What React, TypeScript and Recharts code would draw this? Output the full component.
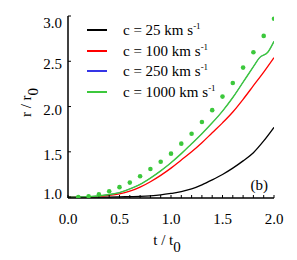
import React from 'react';
import { LineChart, Line, XAxis, YAxis, Legend, Label } from 'recharts';

// ---- data ----
const tGrid = [0.0, 0.1, 0.2, 0.3, 0.4, 0.5, 0.6, 0.7, 0.8, 0.9, 1.0, 1.1, 1.2, 1.3, 1.4, 1.5, 1.6, 1.7, 1.8, 1.9, 2.0];
const r25 = [1.0, 1.0, 1.0, 1.0, 1.0, 1.002, 1.005, 1.008, 1.014, 1.024, 1.04, 1.06, 1.09, 1.135, 1.19, 1.25, 1.32, 1.4, 1.49, 1.62, 1.77];
const r100 = [1.0, 1.0, 1.002, 1.008, 1.018, 1.035, 1.065, 1.11, 1.17, 1.24, 1.32, 1.41, 1.5, 1.6, 1.71, 1.82, 1.94, 2.08, 2.23, 2.38, 2.54];
const tFast = [0.0, 0.1, 0.2, 0.3, 0.4, 0.5, 0.6, 0.7, 0.8, 0.9, 1.0, 1.1, 1.2, 1.3, 1.4, 1.5, 1.6, 1.7, 1.8, 1.86, 1.94, 2.0];
const r250 = [1.0, 1.0, 1.004, 1.012, 1.028, 1.05, 1.09, 1.14, 1.21, 1.29, 1.38, 1.48, 1.59, 1.7, 1.82, 1.95, 2.1, 2.27, 2.44, 2.54, 2.6, 2.72];
const r1000 = [1.0, 1.0, 1.004, 1.012, 1.028, 1.05, 1.09, 1.14, 1.21, 1.29, 1.38, 1.48, 1.59, 1.7, 1.82, 1.95, 2.1, 2.27, 2.44, 2.54, 2.6, 2.72];
const tDots = [0.1, 0.2, 0.3, 0.4, 0.5, 0.6, 0.7, 0.8, 0.9, 1.0, 1.1, 1.2, 1.3, 1.4, 1.5, 1.6, 1.7, 1.8, 1.9, 2.0];
const rDots = [1.0, 1.01, 1.03, 1.065, 1.11, 1.16, 1.23, 1.31, 1.39, 1.48, 1.59, 1.7, 1.83, 1.96, 2.11, 2.26, 2.43, 2.6, 2.78, 2.97];

const seriesNames = ['c = 25 km s', 'c = 100 km s', 'c = 250 km s', 'c = 1000 km s'];
const seriesColors = ['#000000', '#ff0000', '#3535e6', '#3cc83c'];
const unitSup = '-1';

const xTicks = [0.0, 0.1, 0.2, 0.3, 0.4, 0.5, 0.6, 0.7, 0.8, 0.9, 1.0, 1.1, 1.2, 1.3, 1.4, 1.5, 1.6, 1.7, 1.8, 1.9, 2.0];
const xLabelTicks = [0.0, 0.5, 1.0, 1.5, 2.0];
const yTicks = [1.0, 1.5, 2.0, 2.5, 3.0];

const xTitle = 't / t';
const yTitle = 'r / r';
const titleSub = '0';
const panelTag = '(b)';

const pts = (t: number[], r: number[]) => t.map((x, i) => ({ t: x, r: r[i] }));

const FONT = 'Liberation Serif, DejaVu Serif, serif';
const GREEN = seriesColors[3];

const XTick = (props: any) => {
  const { x, y, payload } = props;
  const v = payload.value;
  const show = xLabelTicks.some((m) => Math.abs(m - v) < 1e-6);
  if (!show) return null;
  return (
    <text x={x} y={y + 29} textAnchor="middle" fontSize={15} style={{ fontFamily: FONT }} fill="#000">
      {v.toFixed(1)}
    </text>
  );
};

const YTick = (props: any) => {
  const { x, y, payload, index } = props;
  let off = 8;
  if (index === 0) off = 2;
  if (index === yTicks.length - 1) off = 12;
  return (
    <text x={x} y={y + off} textAnchor="end" fontSize={15} style={{ fontFamily: FONT }} fill="#000">
      {payload.value.toFixed(1)}
    </text>
  );
};

const renderLegend = (props: any) => {
  const items = (props.payload || [])
    .filter((p: any) => seriesNames.indexOf(p.value) >= 0)
    .sort((a: any, b: any) => seriesNames.indexOf(a.value) - seriesNames.indexOf(b.value));
  return (
    <div style={{ position: 'relative', width: 140, height: 84, fontFamily: FONT, fontSize: 15, color: '#000', lineHeight: 'normal' }}>
      {items.map((it: any, i: number) => (
        <div
          key={it.value}
          style={{
            position: 'absolute',
            left: 0,
            top: Math.round(i * 20.7),
            display: 'flex',
            alignItems: 'center',
            height: 20,
            whiteSpace: 'nowrap',
          }}
        >
          <span
            style={{
              display: 'inline-block',
              width: 20,
              height: 2,
              backgroundColor: seriesColors[seriesNames.indexOf(it.value)],
              marginRight: 16,
            }}
          />
          <span>
            {it.value}
            <span style={{ fontSize: 9, position: 'relative', top: -6 }}>{unitSup}</span>
          </span>
        </div>
      ))}
    </div>
  );
};

export default function App() {
  return (
    <div style={{ position: 'absolute', left: 0, top: 0, background: '#fff' }}>
      <LineChart width={297} height={260} margin={{ top: 16, right: 23, bottom: 32, left: 8 }}>
        <XAxis
          xAxisId="b"
          dataKey="t"
          type="number"
          domain={[0, 2]}
          ticks={xTicks}
          interval={0}
          height={30}
          axisLine={{ stroke: '#000', strokeWidth: 1.5 }}
          tickLine={{ stroke: '#000', strokeWidth: 1 }}
          tickSize={-3}
          tickMargin={0}
          tick={<XTick />}
          allowDataOverflow
        >
          <Label
            content={(p: any) => {
              const vb = p.viewBox;
              return (
                <g>
                  <text x={vb.x + vb.width / 2 - 4} y={vb.y + 47} textAnchor="middle" fontSize={15} style={{ fontFamily: FONT }} fill="#000">
                    {xTitle}
                    <tspan dy={7}>{titleSub}</tspan>
                  </text>
                  <text x={vb.x + vb.width - 6} y={vb.y - 8} textAnchor="end" fontSize={15} style={{ fontFamily: FONT }} fill="#000">
                    {panelTag}
                  </text>
                </g>
              );
            }}
          />
        </XAxis>
        <XAxis
          xAxisId="top"
          orientation="top"
          type="number"
          domain={[0, 2]}
          ticks={xTicks}
          interval={0}
          height={0}
          axisLine={{ stroke: '#000', strokeWidth: 1.5 }}
          tickLine={{ stroke: '#000', strokeWidth: 1 }}
          tickSize={-3}
          tick={false}
        />
        <YAxis
          yAxisId="l"
          type="number"
          domain={[0.99, 3]}
          ticks={yTicks}
          interval={0}
          width={60}
          axisLine={{ stroke: '#000', strokeWidth: 1.5 }}
          tickLine={{ stroke: '#000', strokeWidth: 1 }}
          tickSize={-3}
          tickMargin={9}
          tick={<YTick />}
          allowDataOverflow
        >
          <Label
            content={(p: any) => {
              const vb = p.viewBox;
              const cx = vb.x + 23;
              const cy = vb.y + 86.5;
              return (
                <text transform={`translate(${cx},${cy}) rotate(-90)`} textAnchor="middle" fontSize={15} style={{ fontFamily: FONT }} fill="#000">
                  {yTitle}
                  <tspan dy={7}>{titleSub}</tspan>
                </text>
              );
            }}
          />
        </YAxis>
        <YAxis
          yAxisId="r"
          orientation="right"
          type="number"
          domain={[0.99, 3]}
          ticks={yTicks}
          interval={0}
          width={0}
          axisLine={{ stroke: '#000', strokeWidth: 1.5 }}
          tickLine={{ stroke: '#000', strokeWidth: 1 }}
          tickSize={-3}
          tick={false}
        />
        <Legend
          layout="vertical"
          align="center"
          verticalAlign="middle"
          content={renderLegend}
          wrapperStyle={{ left: 87, top: 20, width: 'auto', height: 'auto' }}
        />
        <Line xAxisId="b" yAxisId="l" data={pts(tGrid, r25)} dataKey="r" name={seriesNames[0]} type="monotone" stroke={seriesColors[0]} strokeWidth={1.3} dot={false} activeDot={false} isAnimationActive={false} />
        <Line xAxisId="b" yAxisId="l" data={pts(tGrid, r100)} dataKey="r" name={seriesNames[1]} type="monotone" stroke={seriesColors[1]} strokeWidth={1.3} dot={false} activeDot={false} isAnimationActive={false} />
        <Line xAxisId="b" yAxisId="l" data={pts(tFast, r250)} dataKey="r" name={seriesNames[2]} type="monotone" stroke={seriesColors[2]} strokeWidth={0.8} dot={false} activeDot={false} isAnimationActive={false} />
        <Line xAxisId="b" yAxisId="l" data={pts(tFast, r1000)} dataKey="r" name={seriesNames[3]} type="monotone" stroke={seriesColors[3]} strokeWidth={1.4} dot={false} activeDot={false} isAnimationActive={false} />
        <Line xAxisId="b" yAxisId="l" data={pts(tDots, rDots)} dataKey="r" name="dots" legendType="none" type="linear" stroke="none" dot={{ r: 2.3, fill: GREEN, stroke: 'none' }} activeDot={false} isAnimationActive={false} />
      </LineChart>
    </div>
  );
}
